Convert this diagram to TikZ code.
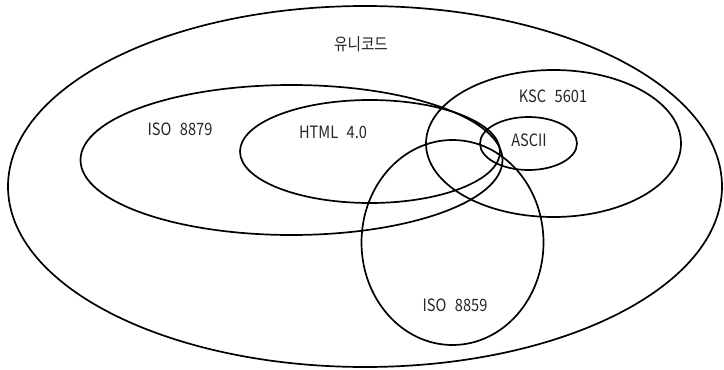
\documentclass[tikz,border=0pt]{standalone}
\usepackage{fontspec}
\setmainfont[FakeStretch=0.86]{Noto Sans CJK KR}
\usetikzlibrary{shapes.geometric}
\tikzset{
  setshape/.style={ellipse, draw=black, line width=1.7pt, inner sep=0pt, outer sep=0pt},
  setlabel/.style={font=\fontsize{17}{19}\selectfont, inner sep=0pt, text=black!85}
}
\begin{document}
\begin{tikzpicture}[x=1pt,y=-1pt]
  % canvas
  \fill[white] (0,0) rectangle (724,370);
  \useasboundingbox (0,0) rectangle (724,370);

  % character sets
  \node[setshape, minimum width=714pt, minimum height=361pt] (unicode) at (365,186.5) {};
  \node[setshape, minimum width=422pt, minimum height=150pt] (iso8879) at (291.5,160) {};
  \node[setshape, minimum width=260pt, minimum height=103pt] (html) at (370,151.5) {};
  \node[setshape, minimum width=255pt, minimum height=147pt] (ksc) at (553.5,143.5) {};
  \node[setshape, minimum width=97pt, minimum height=53pt] (ascii) at (528.5,143.5) {};
  \node[setshape, minimum width=182pt, minimum height=205pt] (iso8859) at (452.5,242.5) {};

  % names
  \node[setlabel] (unicodeLbl) at (361,44) {유니코드};
  \node[setlabel] (iso8879Lbl) at (180,129.5) {ISO\enspace 8879};
  \node[setlabel] (htmlLbl) at (333,132) {HTML\enspace 4.0};
  \node[setlabel] (kscLbl) at (553,96.5) {KSC\enspace 5601};
  \node[setlabel] (asciiLbl) at (529,140.5) {ASCII};
  \node[setlabel] (iso8859Lbl) at (455,305) {ISO\enspace 8859};
\end{tikzpicture}
\end{document}
